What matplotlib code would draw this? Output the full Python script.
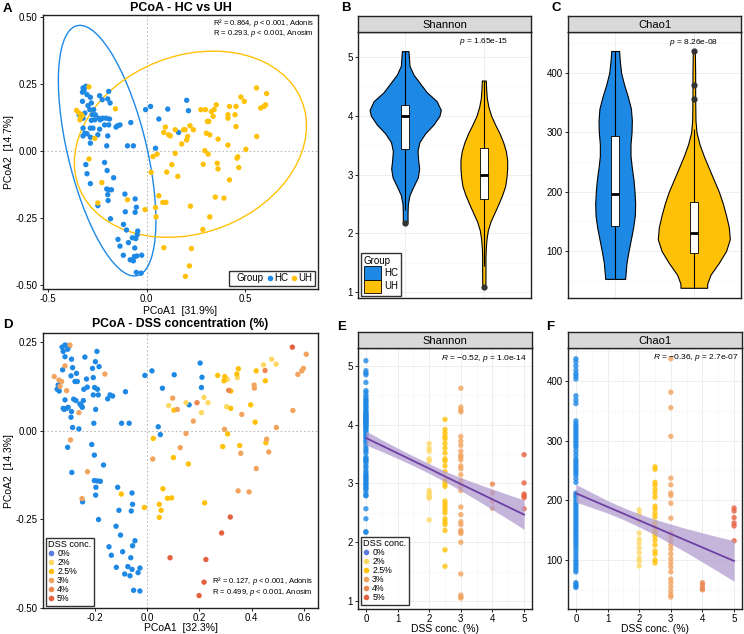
import matplotlib
matplotlib.use("Agg")
import matplotlib.pyplot as plt
from matplotlib.patches import Ellipse, Rectangle, Patch
from matplotlib.lines import Line2D
from matplotlib.ticker import MultipleLocator, FormatStrFormatter

plt.rcParams['font.family'] = ['Liberation Sans', 'DejaVu Sans']
plt.rcParams['mathtext.fontset'] = 'custom'
plt.rcParams['mathtext.rm'] = 'Liberation Sans'
plt.rcParams['mathtext.it'] = 'Liberation Sans:italic'

BLUE = '#1E88E5'
AMBER = '#FFC107'

# ---------------- A: PCoA HC vs UH ----------------
hc_x = [-0.322, -0.308, -0.317, -0.325, -0.302, -0.285, -0.238, -0.192, -0.325, -0.280,
        -0.297, -0.225, -0.197, -0.185, -0.288, -0.268, -0.313, -0.342, -0.275, -0.260,
        -0.322, -0.242, -0.222, -0.205, -0.188, -0.235, -0.280, -0.263, -0.213, -0.192,
        -0.147, -0.135, -0.155, -0.080, -0.285, -0.272, -0.238, -0.322, -0.313, -0.302,
        -0.322, -0.285, -0.247, -0.197, -0.202, -0.285, -0.097, -0.067, -0.005, 0.020,
        0.062, 0.107, 0.203, 0.212, 0.162, 0.045,
        -0.302, -0.285, -0.308, -0.213, -0.200, -0.167, -0.202, -0.192, -0.178, -0.197,
        -0.195, -0.247, -0.183, -0.110, -0.108, -0.058, -0.058, -0.052, -0.102, -0.117,
        -0.145, -0.135, -0.092, -0.072, -0.055, -0.048, -0.045, -0.118, -0.083, -0.060,
        -0.062, -0.050, -0.025, -0.067, -0.052, -0.028]
hc_y = [0.234, 0.240, 0.225, 0.218, 0.209, 0.199, 0.205, 0.221, 0.184, 0.178,
        0.168, 0.190, 0.193, 0.178, 0.153, 0.153, 0.140, 0.134, 0.134, 0.134,
        0.121, 0.121, 0.121, 0.121, 0.118, 0.115, 0.113, 0.115, 0.096, 0.096,
        0.093, 0.096, 0.088, 0.105, 0.084, 0.084, 0.080, 0.084, 0.065, 0.063,
        0.055, 0.050, 0.059, 0.055, 0.018, 0.028, 0.018, 0.018, 0.153, 0.165,
        0.118, 0.155, 0.188, 0.149, 0.068, 0.009,
        -0.086, -0.123, -0.052, -0.044, -0.074, -0.101, -0.143, -0.146, -0.146, -0.164,
        -0.186, -0.205, -0.254, -0.162, -0.228, -0.180, -0.230, -0.211, -0.296, -0.275,
        -0.331, -0.356, -0.343, -0.325, -0.328, -0.314, -0.300, -0.390, -0.407, -0.363,
        -0.395, -0.393, -0.390, -0.411, -0.454, -0.457]
uh_x = [-0.292, -0.355, -0.342, -0.330, -0.335, -0.327, -0.338, -0.158, -0.263, 0.095,
        0.112, 0.087, 0.120, 0.145, 0.187, 0.195, 0.220, 0.237, 0.208, 0.203,
        0.178, 0.275, 0.298, 0.308, 0.315, 0.328, 0.342, 0.353, 0.337, 0.303,
        0.320, 0.362, 0.412, 0.412, 0.420, 0.453, 0.448, 0.453, 0.478, 0.495,
        0.557, 0.608, 0.578, 0.595, 0.603, 0.558, 0.412, 0.295, 0.312, 0.503,
        0.462, 0.145, 0.053,
        -0.292, -0.227, -0.247, -0.097, -0.008, 0.023, 0.045, 0.048, 0.062, 0.082,
        0.098, 0.102, 0.128, 0.158, 0.032, 0.287, 0.358, 0.362, 0.420, 0.458,
        0.467, 0.348, 0.392, 0.222, 0.320, 0.285, 0.087, 0.227, 0.217, 0.197]
uh_y = [0.238, 0.150, 0.140, 0.134, 0.125, 0.130, 0.115, 0.156, 0.046, 0.088,
        0.059, 0.068, 0.055, 0.078, 0.078, 0.078, 0.093, 0.078, 0.053, 0.040,
        0.025, 0.153, 0.153, 0.109, 0.109, 0.146, 0.153, 0.171, 0.128, 0.065,
        0.059, 0.043, 0.121, 0.134, 0.165, 0.165, 0.134, 0.090, 0.200, 0.184,
        0.234, 0.213, 0.159, 0.165, 0.171, 0.053, 0.021, 0.000, -0.013, 0.005,
        -0.023, -0.010, -0.013,
        -0.031, -0.119, -0.195, -0.183, -0.220, -0.081, -0.212, -0.247, -0.168, -0.193,
        -0.193, -0.080, -0.052, -0.096, -0.022, -0.051, -0.047, -0.068, -0.109, -0.028,
        -0.063, -0.173, -0.177, -0.207, -0.247, -0.294, -0.362, -0.365, -0.430, -0.469]
# 95% ellipses: centre, full width, full height, angle (deg)
hc_ell = ((-0.200, 0.000), 0.983, 0.390, 109.65)
uh_ell = ((0.222, 0.024), 1.188, 0.674, 9.84)

# ---------------- B / C: violins ----------------
groups = ['HC', 'UH']
sh_hc_y = [5.10, 5.00, 4.85, 4.70, 4.55, 4.40, 4.25, 4.10, 4.00, 3.85, 3.70, 3.55,
           3.40, 3.25, 3.10, 2.95, 2.80, 2.65, 2.50, 2.35, 2.20, 2.17]
sh_hc_w = [0.042, 0.047, 0.055, 0.106, 0.190, 0.275, 0.400, 0.453, 0.436, 0.360, 0.254, 0.180,
           0.157, 0.165, 0.178, 0.160, 0.106, 0.055, 0.034, 0.030, 0.030, 0.028]
sh_uh_y = [4.60, 4.45, 4.30, 4.15, 4.00, 3.85, 3.70, 3.55, 3.40, 3.25, 3.10, 2.95, 2.80,
           2.65, 2.50, 2.35, 2.20, 2.05, 1.90, 1.75, 1.60, 1.45, 1.30, 1.15, 1.07]
sh_uh_w = [0.025, 0.030, 0.038, 0.059, 0.093, 0.144, 0.200, 0.246, 0.280, 0.297, 0.297, 0.288,
           0.271, 0.233, 0.186, 0.136, 0.085, 0.051, 0.034, 0.025, 0.021, 0.021, 0.021, 0.020, 0.018]
ch_hc_y = [437, 420, 400, 380, 360, 340, 320, 300, 280, 260, 240, 220, 200, 180, 160,
           140, 120, 100, 80, 60, 53]
ch_hc_w = [0.050, 0.059, 0.076, 0.114, 0.161, 0.200, 0.212, 0.208, 0.195, 0.195, 0.212, 0.233,
           0.246, 0.254, 0.250, 0.229, 0.200, 0.170, 0.144, 0.131, 0.127]
ch_uh_y = [437, 400, 360, 320, 300, 280, 260, 240, 220, 200, 180, 160, 140, 120, 100,
           80, 60, 45, 38]
ch_uh_w = [0.013, 0.017, 0.017, 0.021, 0.034, 0.072, 0.127, 0.190, 0.254, 0.318, 0.369, 0.410,
           0.445, 0.458, 0.410, 0.318, 0.212, 0.170, 0.170]
# box stats: whisker low, q1, median, q3, whisker high
sh_box = [(2.40, 3.44, 4.00, 4.19, 5.10), (1.45, 2.585, 3.00, 3.45, 4.60)]
sh_out = [[2.17], [1.08]]
ch_box = [(53, 141.6, 195.5, 294, 437), (38, 97, 131, 182.6, 306)]
ch_out = [[], [356, 380, 437]]

# ---------------- D: PCoA by DSS ----------------
conc_labels = ['0%', '2%', '2.5%', '3%', '4%', '5%']
conc_colors = ['#1E88E5', '#FFD863', '#FFC107', '#F2A35E', '#EC8750', '#E5603F']
d0_x = [-0.324, -0.313, -0.307, -0.298, -0.320, -0.313, -0.303, -0.322, -0.288, -0.284,
        -0.290, -0.269, -0.275, -0.266, -0.237, -0.231, -0.208, -0.197, -0.191, -0.183,
        -0.205, -0.200, -0.189, -0.241, -0.228, -0.243, -0.205, -0.186, -0.250, -0.247,
        -0.256, -0.280, -0.271, -0.313, -0.320, -0.316, -0.307, -0.301, -0.339, -0.343,
        -0.335, -0.288, -0.290, -0.284, -0.260, -0.203, -0.196, -0.150, -0.141, -0.131,
        -0.082, -0.097, -0.068, -0.303, -0.211, -0.201, -0.166, -0.008, 0.019, 0.059,
        0.104, 0.203, 0.210, 0.208, 0.161, 0.043, 0.051,
        -0.287, -0.201, -0.189, -0.178, -0.195, -0.196, -0.246, -0.185, -0.112, -0.057,
        -0.055, -0.107, -0.060, -0.118, -0.101, -0.046, -0.145, -0.055, -0.136, -0.093,
        -0.062, -0.117, -0.073, -0.057, -0.027, -0.085, -0.065, -0.034, -0.051, -0.027]
d0_y = [0.236, 0.242, 0.240, 0.238, 0.224, 0.209, 0.230, 0.172, 0.202, 0.178,
        0.155, 0.162, 0.139, 0.139, 0.208, 0.146, 0.176, 0.195, 0.224, 0.181,
        0.150, 0.122, 0.117, 0.117, 0.123, 0.085, 0.101, 0.101, 0.070, 0.066,
        0.075, 0.089, 0.085, 0.087, 0.063, 0.060, 0.063, 0.066, 0.129, 0.117,
        0.112, 0.054, 0.038, 0.009, 0.005, 0.021, 0.060, 0.090, 0.101, 0.098,
        0.110, 0.021, 0.021, -0.047, -0.039, -0.069, -0.097, 0.156, 0.169, 0.120,
        0.158, 0.191, 0.151, 0.122, 0.073, 0.011, -0.011,
        -0.118, -0.141, -0.142, -0.143, -0.160, -0.182, -0.201, -0.251, -0.160, -0.176,
        -0.208, -0.225, -0.227, -0.270, -0.295, -0.311, -0.328, -0.325, -0.352, -0.342,
        -0.359, -0.386, -0.384, -0.392, -0.388, -0.405, -0.410, -0.401, -0.451, -0.453]
d2_x = [0.083, 0.149, 0.208, 0.218, 0.233, 0.307, 0.345, 0.304, 0.445, 0.476, 0.493]
d2_y = [0.071, 0.079, 0.051, 0.094, 0.079, 0.145, 0.150, 0.068, 0.186, 0.202, 0.188]
d25_x = [0.024, 0.101, 0.158, 0.103, 0.270, 0.297, 0.294, 0.320, 0.343, 0.349, 0.320, 0.396,
         0.413, 0.417, 0.452, 0.308, 0.354, 0.454, 0.289, -0.098, -0.010, 0.047, 0.054, 0.047,
         0.078, 0.094, 0.220, 0.061]
d25_y = [-0.022, -0.076, -0.094, 0.058, 0.156, 0.153, 0.141, 0.112, 0.160, 0.175, 0.063, 0.073,
         0.024, 0.169, 0.141, -0.009, -0.042, -0.034, -0.045, -0.179, -0.217, -0.208, -0.225, -0.245,
         -0.191, -0.190, -0.204, -0.164]
d3_x = [-0.354, -0.336, -0.326, -0.332, -0.313, -0.307, -0.294, -0.260, -0.161, -0.292, 0.022,
        0.127, 0.149, 0.116, 0.098, 0.177, 0.362, 0.409, 0.410, 0.557, 0.576, 0.591, 0.597,
        0.608, 0.296, 0.358, 0.417, 0.457, 0.465, 0.494, -0.227, -0.248, 0.348, 0.390]
d3_y = [0.153, 0.143, 0.139, 0.125, 0.183, 0.113, 0.242, 0.051, 0.160, -0.026, -0.080,
        -0.048, -0.008, 0.060, 0.092, 0.027, 0.046, 0.129, 0.120, 0.057, 0.159, 0.169, 0.176,
        0.216, 0.004, -0.064, -0.107, -0.024, -0.060, 0.009, -0.116, -0.192, -0.170, -0.173]
d4_x = [0.191, 0.312, 0.451]
d4_y = [0.079, 0.114, 0.170]
d5_x = [0.555, 0.318, 0.285, 0.088, 0.225, 0.218, 0.199]
d5_y = [0.236, -0.244, -0.289, -0.359, -0.364, -0.428, -0.466]

# ---------------- E / F: alpha diversity vs DSS ----------------
conc_vals = [0, 2, 2.5, 3, 4, 5]
sh_by_conc = [
    [5.09, 4.92, 4.88, 4.85, 4.72, 4.58, 4.55, 4.50, 4.46, 4.43, 4.40, 4.38, 4.35, 4.32, 4.30,
     4.28, 4.25, 4.22, 4.20, 4.18, 4.17, 4.15, 4.13, 4.12, 4.10, 4.09, 4.08, 4.06, 4.05, 4.03,
     4.02, 4.00, 3.99, 3.97, 3.95, 3.93, 3.90, 3.88, 3.85, 3.82, 3.80, 3.77, 3.73, 3.70, 3.65,
     3.60, 3.56, 3.52, 3.45, 3.42, 3.40, 3.38, 3.35, 3.30, 3.27, 3.22, 3.18, 3.15, 3.12, 3.10,
     3.08, 3.05, 3.03, 3.00, 2.98, 2.95, 2.92, 2.90, 2.85, 2.80, 2.79, 2.57, 2.40, 2.18, 2.17],
    [3.68, 3.60, 3.55, 3.42, 3.38, 2.88, 2.84, 2.80, 2.77, 2.75, 2.38],
    [4.09, 3.92, 3.86, 3.80, 3.76, 3.68, 3.60, 3.52, 3.42, 3.38, 3.30, 3.20, 3.05, 3.00, 2.95,
     2.70, 2.65, 2.60, 2.55, 2.50, 2.40, 2.35, 2.30, 2.20, 1.87, 1.59],
    [4.62, 4.30, 4.25, 4.22, 3.80, 3.72, 3.65, 3.55, 3.48, 3.45, 3.40, 3.30, 3.25, 3.15, 3.05,
     3.00, 2.95, 2.88, 2.60, 2.47, 2.35, 2.30, 2.20, 2.18, 2.15, 2.00, 1.46, 1.10, 1.07, 1.05],
    [2.99, 2.84, 2.70, 2.58],
    [3.49, 3.01, 2.82, 2.79, 2.76, 2.57],
]
ch_by_conc = [
    [437, 432, 425, 418, 412, 408, 403, 375, 368, 362, 333, 328, 324, 320, 316, 312, 308, 304,
     300, 296, 292, 288, 282, 276, 270, 266, 262, 258, 254, 250, 246, 242, 236, 230, 212, 208,
     205, 200, 196, 192, 188, 184, 180, 176, 172, 168, 164, 160, 156, 152, 148, 144, 140, 136,
     132, 128, 124, 120, 115, 110, 105, 100, 96, 92, 88, 84, 80, 62, 59, 56, 54],
    [184, 177, 165, 145, 135, 128, 120, 112, 103, 98, 90],
    [256, 252, 230, 225, 218, 212, 205, 190, 185, 178, 172, 162, 155, 148, 145, 140, 133, 125,
     115, 110, 100, 95],
    [437, 381, 355, 307, 237, 226, 212, 208, 195, 170, 145, 138, 132, 125, 118, 110, 102, 95,
     88, 80, 68, 62, 55, 48, 42, 38],
    [62, 58, 53, 50],
    [187, 182, 171, 162, 157, 132],
]
fit_x = [0, 0.5, 1, 1.5, 2, 2.5, 3, 3.5, 4, 4.5, 5]
sh_fit = [3.775, 3.645, 3.515, 3.385, 3.255, 3.12, 2.99, 2.86, 2.73, 2.60, 2.47]
sh_lo = [3.655, 3.545, 3.427, 3.303, 3.172, 3.03, 2.88, 2.72, 2.555, 2.39, 2.22]
sh_hi = [3.895, 3.745, 3.603, 3.467, 3.338, 3.21, 3.10, 3.00, 2.905, 2.81, 2.72]
ch_fit = [211.7, 200.4, 189.0, 177.7, 166.3, 155.0, 143.6, 132.3, 121.0, 109.6, 98.3]
ch_lo = [196.7, 187.9, 178.5, 167.7, 155.3, 142.0, 127.1, 112.3, 96.5, 80.6, 64.3]
ch_hi = [226.7, 212.9, 199.5, 187.7, 177.3, 168.0, 160.1, 152.3, 145.5, 138.6, 132.3]

W, H = 744, 634
fig = plt.figure(figsize=(W / 100, H / 100), dpi=100)


def box(l, t, r, b):
    return [l / W, 1 - b / H, (r - l) / W, (b - t) / H]


def style_ticks(ax):
    ax.tick_params(labelsize=7, length=2.2, width=0.6, pad=1.5, colors='black')
    for s in ax.spines.values():
        s.set_linewidth(1.0)
        s.set_color('#222222')


def add_strip(l, t, r, b, label):
    s = fig.add_axes(box(l, t, r, b))
    s.set_facecolor('#D9D9D9')
    s.set_xticks([])
    s.set_yticks([])
    for sp in s.spines.values():
        sp.set_linewidth(1.0)
        sp.set_color('#222222')
    s.text(0.5, 0.45, label, ha='center', va='center', fontsize=8, transform=s.transAxes)


def bw_grid(ax):
    ax.grid(True, which='major', color='#EBEBEB', lw=0.6, zorder=0)
    ax.grid(True, which='minor', color='#F3F3F3', lw=0.4, zorder=0)
    ax.set_axisbelow(True)


def dot_legend(ax, anchor):
    hs = [Line2D([], [], ls='none', marker='o', ms=4.0, mec='none',
                 mfc=(c if i else '#5B7BDC')) for i, c in enumerate(conc_colors)]
    leg = ax.legend(hs, conc_labels, title='DSS conc.', loc='lower left', bbox_to_anchor=anchor,
                    borderaxespad=0, fontsize=6.3, title_fontsize=6.6, labelspacing=0.0,
                    handlelength=0.7, handletextpad=0.3, borderpad=0.3, frameon=True,
                    fancybox=False, edgecolor='black', alignment='left')
    leg.get_frame().set_linewidth(1.0)


# ---- A ----
axA = fig.add_axes(box(43, 15, 318, 289))
axA.axvline(0, color='#BBBBBB', lw=0.8, ls=(0, (1.5, 2)), zorder=1)
axA.axhline(0, color='#BBBBBB', lw=0.8, ls=(0, (1.5, 2)), zorder=1)
axA.scatter(hc_x, hc_y, s=15, color=BLUE, edgecolors='none', zorder=3)
axA.scatter(uh_x, uh_y, s=15, color=AMBER, edgecolors='none', zorder=3)
for (c, w, h, a), col in [(hc_ell, BLUE), (uh_ell, AMBER)]:
    axA.add_patch(Ellipse(c, w, h, angle=a, fill=False, edgecolor=col, lw=1.0, zorder=2))
axA.set_xlim(-0.525, 0.8685)
axA.set_ylim(-0.516, 0.506)
axA.xaxis.set_major_locator(MultipleLocator(0.5))
axA.yaxis.set_major_locator(MultipleLocator(0.25))
axA.xaxis.set_major_formatter(FormatStrFormatter('%.1f'))
axA.yaxis.set_major_formatter(FormatStrFormatter('%.2f'))
style_ticks(axA)
axA.set_title('PCoA - HC vs UH', fontsize=9, fontweight='bold', pad=3)
axA.set_xlabel('PCoA1  [31.9%]', fontsize=7.5, labelpad=1)
axA.set_ylabel('PCoA2  [14.7%]', fontsize=7.5, labelpad=1)
axA.text(0.985, 0.972, 'R² = 0.864, $\\it{p}$ < 0.001, Adonis', ha='right', va='center',
         fontsize=5.5, transform=axA.transAxes)
axA.text(0.985, 0.934, 'R = 0.293, $\\it{p}$ < 0.001, Anosim', ha='right', va='center',
         fontsize=5.5, transform=axA.transAxes)
hA = [Line2D([], [], ls='none'),
      Line2D([], [], ls='none', marker='o', ms=4, mec='none', mfc=BLUE),
      Line2D([], [], ls='none', marker='o', ms=4, mec='none', mfc=AMBER)]
legA = axA.legend(hA, ['Group', 'HC', 'UH'], ncol=3, loc='lower right',
                  bbox_to_anchor=(0.988, 0.012), borderaxespad=0, fontsize=7,
                  handlelength=0.4, handletextpad=0.2, columnspacing=0.45, borderpad=0.25,
                  frameon=True, fancybox=False, edgecolor='black')
legA.get_frame().set_linewidth(1.0)


# ---- B / C ----
def violin_panel(l, r, title, profiles, boxes, outliers, ylim, major, minor, ptxt, pty):
    ax = fig.add_axes(box(l, 32, r, 298))
    add_strip(l, 16, r, 32, title)
    bw_grid(ax)
    for i, ((yy, ww), (lo, q1, med, q3, hi), outs, col) in enumerate(
            zip(profiles, boxes, outliers, [BLUE, AMBER])):
        pos = i + 1
        ax.fill_betweenx(yy, [pos - w for w in ww], [pos + w for w in ww],
                         facecolor=col, edgecolor='black', lw=0.8, zorder=2)
        ax.vlines(pos, lo, hi, color='black', lw=0.8, zorder=3)
        ax.add_patch(Rectangle((pos - 0.053, q1), 0.106, q3 - q1, facecolor='white',
                               edgecolor='black', lw=0.6, zorder=4))
        ax.hlines(med, pos - 0.053, pos + 0.053, color='black', lw=2.0, zorder=5)
        if outs:
            ax.scatter([pos] * len(outs), outs, s=12, color='#333333', zorder=6)
    ax.set_xlim(0.4, 2.6)
    ax.set_ylim(*ylim)
    ax.set_xticks([1, 2])
    ax.yaxis.set_major_locator(MultipleLocator(major))
    ax.yaxis.set_minor_locator(MultipleLocator(minor))
    style_ticks(ax)
    ax.tick_params(axis='x', length=0, labelbottom=False)
    ax.tick_params(axis='y', which='minor', length=0)
    ax.text(2, pty, ptxt, ha='center', va='center', fontsize=6)
    return ax


axB = violin_panel(358, 531, 'Shannon', [(sh_hc_y, sh_hc_w), (sh_uh_y, sh_uh_w)],
                   sh_box, sh_out, (0.898, 5.426), 1, 0.5, '$\\it{p}$ = 1.65e-15', 5.26)
hB = [Patch(facecolor=BLUE, edgecolor='black', lw=0.6),
      Patch(facecolor=AMBER, edgecolor='black', lw=0.6)]
legB = axB.legend(hB, groups, title='Group', loc='lower left', bbox_to_anchor=(0.016, 0.008),
                  borderaxespad=0, fontsize=7, title_fontsize=7, handlelength=1.8,
                  handleheight=1.75, handletextpad=0.3, labelspacing=0.0, borderpad=0.3,
                  frameon=True, fancybox=False, edgecolor='black', alignment='left')
legB.get_frame().set_linewidth(1.0)

violin_panel(568, 741, 'Chao1', [(ch_hc_y, ch_hc_w), (ch_uh_y, ch_uh_w)],
             ch_box, ch_out, (20.8, 469), 100, 50, '$\\it{p}$ = 8.26e-08', 452)

# ---- D ----
axD = fig.add_axes(box(43, 333, 318, 608))
axD.axvline(0, color='#BBBBBB', lw=0.8, ls=(0, (1.5, 2)), zorder=1)
axD.axhline(0, color='#BBBBBB', lw=0.8, ls=(0, (1.5, 2)), zorder=1)
for xs, ys, col in zip([d0_x, d2_x, d25_x, d3_x, d4_x, d5_x],
                       [d0_y, d2_y, d25_y, d3_y, d4_y, d5_y], conc_colors):
    axD.scatter(xs, ys, s=15, color=col, edgecolors='none', zorder=3)
axD.set_xlim(-0.397, 0.653)
axD.set_ylim(-0.501, 0.276)
axD.xaxis.set_major_locator(MultipleLocator(0.2))
axD.yaxis.set_major_locator(MultipleLocator(0.25))
axD.xaxis.set_major_formatter(FormatStrFormatter('%.1f'))
axD.yaxis.set_major_formatter(FormatStrFormatter('%.2f'))
style_ticks(axD)
axD.set_title('PCoA - DSS concentration (%)', fontsize=8.8, fontweight='bold', pad=4)
axD.set_xlabel('PCoA1  [32.3%]', fontsize=7.5, labelpad=0)
axD.set_ylabel('PCoA2  [14.3%]', fontsize=7.5, labelpad=1)
axD.text(0.982, 0.075, 'R² = 0.127, $\\it{p}$ < 0.001, Adonis', ha='right', va='bottom',
         fontsize=5.5, transform=axD.transAxes)
axD.text(0.982, 0.038, 'R = 0.499, $\\it{p}$ < 0.001, Anosim', ha='right', va='bottom',
         fontsize=5.5, transform=axD.transAxes)
dot_legend(axD, (0.01, 0.008))


# ---- E / F ----
def reg_panel(l, r, title, data, fit, lo, hi, ylim, major, minor, txt, tx, ty):
    ax = fig.add_axes(box(l, 348, r, 609))
    add_strip(l, 332, r, 348, title)
    bw_grid(ax)
    for cv, vals, col in zip(conc_vals, data, conc_colors):
        ax.scatter([cv] * len(vals), vals, s=15, color=col, alpha=0.8, edgecolors='none', zorder=3)
    ax.fill_between(fit_x, lo, hi, color='#B39DD0', alpha=0.75, lw=0, zorder=4)
    ax.plot(fit_x, fit, color='#6E40A3', lw=1.3, zorder=5)
    ax.set_xlim(-0.25, 5.25)
    ax.set_ylim(*ylim)
    ax.xaxis.set_major_locator(MultipleLocator(1))
    ax.xaxis.set_minor_locator(MultipleLocator(0.5))
    ax.yaxis.set_major_locator(MultipleLocator(major))
    ax.yaxis.set_minor_locator(MultipleLocator(minor))
    style_ticks(ax)
    ax.tick_params(which='minor', length=0)
    ax.set_xlabel('DSS conc. (%)', fontsize=7.5, labelpad=0)
    ax.text(tx, ty, txt, ha='right', va='center', fontsize=6)
    return ax


axE = reg_panel(358, 532, 'Shannon', sh_by_conc, sh_fit, sh_lo, sh_hi, (0.864, 5.306), 1, 0.5,
                '$\\it{R}$ = \u22120.52, $\\it{p}$ = 1.0e-14', 5.1, 5.13)
dot_legend(axE, (0.016, 0.015))
reg_panel(568, 742, 'Chao1', ch_by_conc, ch_fit, ch_lo, ch_hi, (17.9, 455), 100, 50,
          '$\\it{R}$ = \u22120.36, $\\it{p}$ = 2.7e-07', 5.15, 438.5)

# panel letters
for lab, x, y in [('A', 3, 3), ('B', 341, 2), ('C', 551, 2), ('D', 3, 319), ('E', 337, 321),
                  ('F', 546, 321)]:
    fig.text(x / W, 1 - y / H, lab, fontsize=9.5, fontweight='bold', va='top', ha='left')

fig.savefig('out.png', dpi=100)
